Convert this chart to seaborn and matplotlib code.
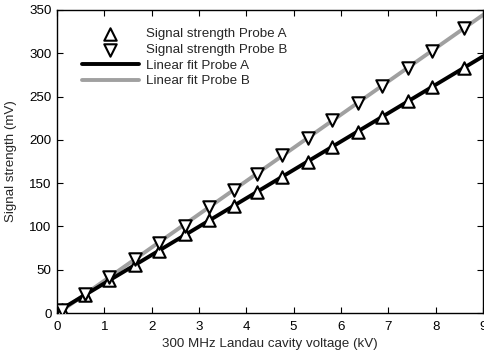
import numpy as np
import pandas as pd
import matplotlib
matplotlib.use("Agg")
import matplotlib.pyplot as plt
import seaborn as sns

# measured cavity voltage (kV)
voltage = [0.1, 0.6, 1.1, 1.65, 2.15, 2.7, 3.22, 3.73, 4.23, 4.76,
           5.3, 5.82, 6.35, 6.86, 7.41, 7.92, 8.59]
# signal strength (mV)
probe_a = [4, 21, 38, 55, 72, 91, 108, 124, 140, 157,
           175, 192, 209, 226, 245, 261, 283]
probe_b = [4, 22, 42, 62, 81, 101, 122, 142, 161, 182,
           202, 223, 243, 262, 283, 303, 329]
fit_range = [0.1, 9]

sns.set_theme(style="ticks")
plt.rcParams['font.family'] = ['Liberation Sans', 'DejaVu Sans']
fs = 9.6

df = pd.DataFrame({"voltage": voltage, "A": probe_a, "B": probe_b})

# linear fits
fa = np.polyfit(voltage, probe_a, 1)
fb = np.polyfit(voltage, probe_b, 1)
fit_df = pd.DataFrame({"voltage": fit_range,
                       "A": np.polyval(fa, fit_range),
                       "B": np.polyval(fb, fit_range)})

fig = plt.figure(figsize=(4.85, 3.57), dpi=100)
ax = fig.add_axes([0.1175, 0.1232, 0.8784, 0.8488])

sns.lineplot(data=fit_df, x="voltage", y="A", color="black", linewidth=2.8,
             label="Linear fit Probe A", ax=ax, zorder=2)
sns.lineplot(data=fit_df, x="voltage", y="B", color="#a0a0a0", linewidth=2.8,
             label="Linear fit Probe B", ax=ax, zorder=1)
sns.scatterplot(data=df, x="voltage", y="A", marker="^", s=80, color="white",
                edgecolor="black", linewidth=1.5, label="Signal strength Probe A",
                ax=ax, zorder=3)
sns.scatterplot(data=df, x="voltage", y="B", marker="v", s=80, color="white",
                edgecolor="black", linewidth=1.5, label="Signal strength Probe B",
                ax=ax, zorder=4)

ax.set_xlim(0, 9)
ax.set_ylim(0, 350)
ax.set_xticks(range(0, 10))
ax.set_yticks(range(0, 351, 50))
ax.tick_params(direction="in", top=True, right=True, labelsize=fs,
               length=4, width=0.8, colors="black")
ax.tick_params(axis="x", pad=5.5)
ax.tick_params(axis="y", pad=4)
for s in ax.spines.values():
    s.set_linewidth(1.0)
    s.set_color("black")

ax.set_xlabel("300 MHz Landau cavity voltage (kV)", fontsize=fs, labelpad=4)
ax.set_ylabel("Signal strength (mV)", fontsize=fs, labelpad=9)

h, l = ax.get_legend_handles_labels()
order = [2, 3, 0, 1]
ax.legend([h[i] for i in order], [l[i] for i in order], loc="upper left",
          frameon=False, fontsize=fs, handlelength=4.3, handletextpad=0.5,
          labelspacing=0.25, bbox_to_anchor=(0.03, 0.98))

fig.savefig("out.png", dpi=100)
